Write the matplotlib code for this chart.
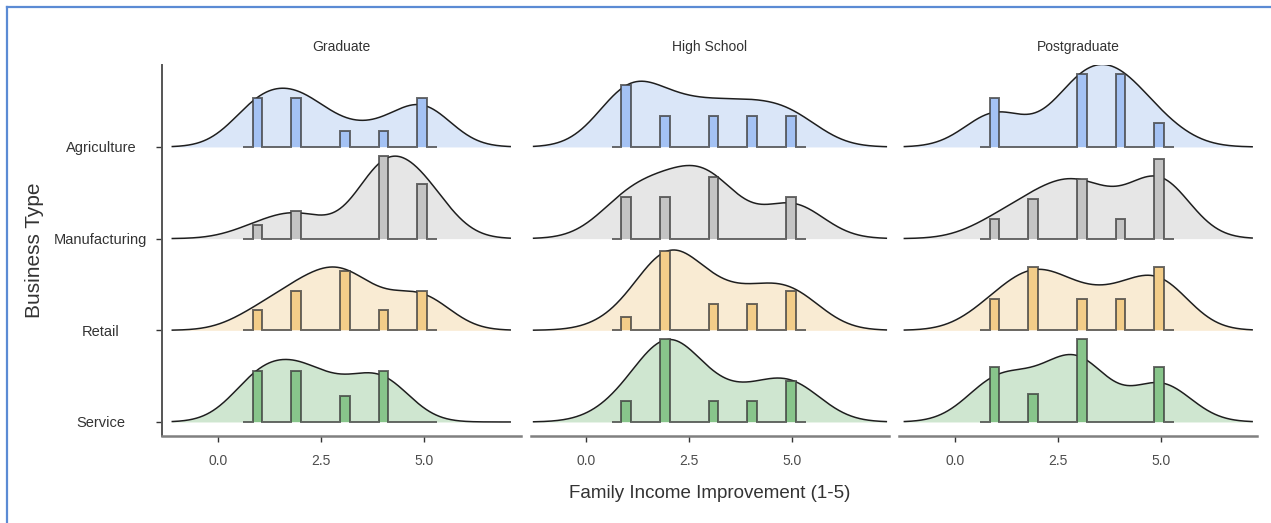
import numpy as np
import matplotlib
matplotlib.use("Agg")
import matplotlib.pyplot as plt
from matplotlib.lines import Line2D

# ---- data (counts of answers 1..5 per business type, per education level) ----
education = ['Graduate', 'High School', 'Postgraduate']
business = ['Agriculture', 'Manufacturing', 'Retail', 'Service']
scores = [1, 2, 3, 4, 5]

grad_counts = [[3, 3, 1, 1, 3],
               [1, 2, 0, 6, 4],
               [1, 2, 3, 1, 2],
               [2, 2, 1, 2, 0]]
hs_counts = [[2, 1, 1, 1, 1],
             [2, 2, 3, 0, 2],
             [1, 6, 2, 2, 3],
             [1, 4, 1, 1, 2]]
pg_counts = [[2, 0, 3, 3, 1],
             [1, 2, 3, 1, 4],
             [1, 2, 1, 1, 2],
             [2, 1, 3, 0, 2]]
panel_counts = [grad_counts, hs_counts, pg_counts]

# kde bandwidth per panel
bandwidths = [0.70, 0.76, 0.74]

# ---- styling ----
dens_fill = ['#dae6f8', '#e6e6e6', '#f9ebd3', '#cfe6d0']
bar_fill = ['#a4c2f4', '#c4c4c4', '#f3cd89', '#88c58b']
sans = ['Liberation Sans', 'DejaVu Sans']
txt_col = '#4d4d4d'
axis_col = '#808080'

binw = 4 / 17
edges = 0.85 + binw * np.arange(-1, 20)
scale = 0.9

W, H = 1271, 523
fig = plt.figure(figsize=(W / 100, H / 100), dpi=100)

lefts = [162, 530.7, 899]
pw = 358.5
top, bottom = 65, 436

def kde(xs, vals, w, bw):
    z = (xs[:, None] - np.array(vals)[None, :]) / bw
    k = np.exp(-0.5 * z ** 2) / (bw * np.sqrt(2 * np.pi))
    return (k * np.array(w)[None, :]).sum(axis=1) / np.sum(w)

for p, name in enumerate(education):
    ax = fig.add_axes([lefts[p] / W, 1 - bottom / H, pw / W, (bottom - top) / H])
    counts = panel_counts[p]
    bw = bandwidths[p]
    xs = np.linspace(min(scores) - 3 * bw, max(scores) + 3 * bw, 512)

    dens = [kde(xs, scores, c, bw) for c in counts]
    dmax = max(d.max() for d in dens)
    hists = [np.histogram(scores, bins=edges, weights=c)[0] / np.sum(c) for c in counts]
    hmax = max(h.max() for h in hists)

    for i, b in enumerate(business):
        base = len(business) - i
        d = dens[i] / dmax * scale
        ax.fill_between(xs, base, base + d, color=dens_fill[i], lw=0, zorder=1 + i * 0.1)
        ax.plot(xs, base + d, color='#1e1e1e', lw=1.1, zorder=1.05 + i * 0.1)

    for i, b in enumerate(business):
        base = len(business) - i
        h = hists[i] / hmax * scale
        ax.stairs(base + h, edges, baseline=base, fill=True, color=bar_fill[i], lw=0, zorder=3 + i * 0.1)
        ax.stairs(base + h, edges, baseline=base, color='#3a3a3a', alpha=0.75, lw=1.4, zorder=3.05 + i * 0.1)

    ax.set_xlim(-1.35, 7.35)
    ax.set_ylim(0.847, 4.894)
    ax.set_xticks([0, 2.5, 5], ['0.0', '2.5', '5.0'])
    ax.tick_params(axis='x', length=4, width=1, color='#333333', labelsize=10,
                   labelcolor=txt_col, pad=9)
    for lab in ax.get_xticklabels():
        lab.set_family(sans)
    for s in ['top', 'right']:
        ax.spines[s].set_visible(False)
    ax.spines['bottom'].set_color(axis_col)
    ax.spines['bottom'].set_linewidth(1.8)
    if p == 0:
        ax.spines['left'].set_color('#555555')
        ax.spines['left'].set_linewidth(1.4)
        ax.set_yticks([4, 3, 2, 1], business)
        ax.tick_params(axis='y', length=4, width=1, color='#333333', labelsize=10.5,
                       labelcolor='#333333', pad=40)
        for lab in ax.get_yticklabels():
            lab.set_family(sans)
            lab.set_horizontalalignment('center')
    else:
        ax.spines['left'].set_visible(False)
        ax.set_yticks([])
    ax.set_title(name, fontsize=10, family=sans, color='#333333', pad=10)
    ax.patch.set_alpha(0)

fig.text(710 / W, 1 - 493 / H, 'Family Income Improvement (1-5)', ha='center', va='center',
         fontsize=13.5, family=sans, color='#333333')
fig.text(35 / W, 1 - 250 / H, 'Business Type', ha='center', va='center', rotation=90,
         fontsize=15, family=sans, color='#333333')

# thin blue frame (left and top edges)
fig.add_artist(Line2D([7 / W, 7 / W], [0, 1 - 7 / H], color='#5b8bd4', lw=1.6))
fig.add_artist(Line2D([7 / W, 1], [1 - 7 / H, 1 - 7 / H], color='#5b8bd4', lw=1.6))

fig.savefig('out.png', dpi=100)
